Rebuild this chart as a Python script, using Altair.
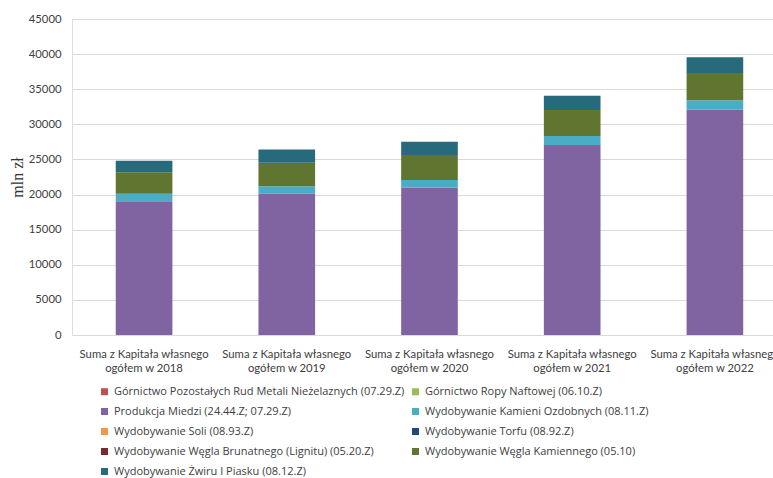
import altair as alt
import pandas as pd

categories = [
    "Suma z Kapitała własnego\nogółem w 2018",
    "Suma z Kapitała własnego\nogółem w 2019",
    "Suma z Kapitała własnego\nogółem w 2020",
    "Suma z Kapitała własnego\nogółem w 2021",
    "Suma z Kapitała własnego\nogółem w 2022",
]

series = [
    "Górnictwo Pozostałych Rud Metali Nieżelaznych (07.29.Z)",
    "Górnictwo Ropy Naftowej (06.10.Z)",
    "Produkcja Miedzi (24.44.Z; 07.29.Z)",
    "Wydobywanie Kamieni Ozdobnych (08.11.Z)",
    "Wydobywanie Soli (08.93.Z)",
    "Wydobywanie Torfu (08.92.Z)",
    "Wydobywanie Węgla Brunatnego (Lignitu) (05.20.Z)",
    "Wydobywanie Węgla Kamiennego (05.10)",
    "Wydobywanie Żwiru I Piasku (08.12.Z)",
]

colors = ["#C0504D", "#9BBB59", "#8064A2", "#4BACC6", "#F79646",
          "#1F497D", "#772C2A", "#5F7530", "#276A7C"]

values = {
    series[0]: [0, 0, 0, 0, 0],
    series[1]: [0, 0, 0, 0, 0],
    series[2]: [19050, 20150, 20980, 27060, 32090],
    series[3]: [1080, 1050, 1090, 1280, 1330],
    series[4]: [0, 0, 0, 0, 0],
    series[5]: [0, 0, 0, 0, 0],
    series[6]: [0, 0, 0, 0, 0],
    series[7]: [3040, 3340, 3560, 3700, 3890],
    series[8]: [1650, 1860, 1900, 2040, 2240],
}

rows = []
for si, s in enumerate(series):
    for ci, c in enumerate(categories):
        rows.append({"kategoria": c, "seria": s, "wartosc": values[s][ci], "kolejnosc": si})
df = pd.DataFrame(rows)

FONT = "Lato"
TXT = "#404040"

chart = alt.Chart(df).mark_bar().encode(
    x=alt.X(
        "kategoria:N",
        sort=categories,
        title=None,
        scale=alt.Scale(paddingInner=0.603, paddingOuter=0.2576, align=0.595),
        axis=alt.Axis(
            labelExpr="split(datum.label, '\\n')",
            labelAngle=0,
            labelFont=FONT,
            labelFontSize=11.3,
            labelColor=TXT,
            labelPadding=13,
            labelLineHeight=14,
            ticks=False,
            domain=False,
            grid=False,
            labelLimit=400,
        ),
    ),
    y=alt.Y(
        "sum(wartosc):Q",
        title="mln zł",
        stack="zero",
        scale=alt.Scale(domain=[0, 45000], nice=False),
        axis=alt.Axis(
            values=list(range(0, 45001, 5000)),
            format="d",
            labelFont=FONT,
            labelFontSize=11.3,
            labelColor=TXT,
            labelPadding=11,
            ticks=False,
            domain=False,
            gridColor="#d9d9d9",
            gridWidth=1,
            titleFont="Liberation Serif",
            titleFontSize=16,
            titleFontWeight="normal",
            titleColor="#333333",
            titlePadding=3,
        ),
    ),
    color=alt.Color(
        "seria:N",
        scale=alt.Scale(domain=series, range=colors),
        legend=alt.Legend(
            title=None,
            orient="none",
            direction="horizontal",
            legendX=27,
            legendY=367,
            columns=2,
            columnPadding=5,
            rowPadding=8,
            symbolType="square",
            symbolSize=49,
            symbolStrokeWidth=0,
            labelFont="Open Sans",
            labelFontSize=11,
            labelColor=TXT,
            labelOffset=4,
            labelLimit=400,
            padding=0,
        ),
    ),
    order=alt.Order("kolejnosc:Q", sort="ascending"),
).properties(
    width=701,
    height=316,
    autosize=alt.AutoSizeParams(type="none"),
    padding={"left": 72, "top": 19, "right": 0, "bottom": 143},
).configure_view(stroke=None).configure(background="white")

chart.save("out.html", embed_options={"renderer": "svg", "actions": False})
